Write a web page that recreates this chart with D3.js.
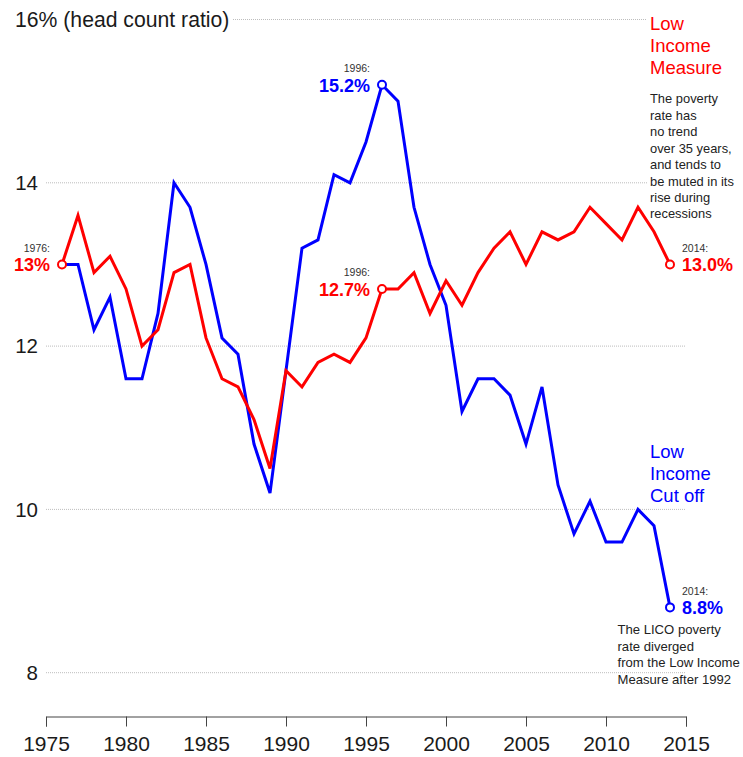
<!DOCTYPE html>
<html>
<head>
<meta charset="utf-8">
<script src="https://cdn.jsdelivr.net/npm/d3@7"></script>
<style>
  html, body { margin: 0; padding: 0; background: #fff; }
  svg { display: block; font-family: "Liberation Sans", Arial, Helvetica, sans-serif; }
</style>
</head>
<body>
<svg id="chart" width="743" height="757"></svg>
<script>
// ---- data ----
const years = d3.range(1976, 2015);
const licoValues = [13.0,13.0,12.2,12.6,11.6,11.6,12.4,14.0,13.7,13.0,
                    12.1,11.9,10.8,10.2,11.7,13.2,13.3,14.1,14.0,14.5,
                    15.2,15.0,13.7,13.0,12.5,11.2,11.6,11.6,11.4,10.8,
                    11.5,10.3,9.7,10.1,9.6,9.6,10.0,9.8,8.8];
const limValues  = [13.0,13.6,12.9,13.1,12.7,12.0,12.2,12.9,13.0,12.1,
                    11.6,11.5,11.1,10.5,11.7,11.5,11.8,11.9,11.8,12.1,
                    12.7,12.7,12.9,12.4,12.8,12.5,12.9,13.2,13.4,13.0,
                    13.4,13.3,13.4,13.7,13.5,13.3,13.7,13.4,13.0];
const xTicks = [1975,1980,1985,1990,1995,2000,2005,2010,2015];
const yTicks = [8,10,12,14,16];
const yTopLabel = "16% (head count ratio)";

// highlighted points
const limMarks  = [{year:1976, label:"1976:", value:"13%",   side:"left"},
                   {year:1996, label:"1996:", value:"12.7%", side:"left"},
                   {year:2014, label:"2014:", value:"13.0%", side:"right"}];
const licoMarks = [{year:1996, label:"1996:", value:"15.2%", side:"left"},
                   {year:2014, label:"2014:", value:"8.8%",  side:"right"}];

const limTitle  = ["Low","Income","Measure"];
const limNote   = ["The poverty","rate has","no trend","over 35 years,","and tends to","be muted in its","rise during","recessions"];
const licoTitle = ["Low","Income","Cut off"];
const licoNote  = ["The LICO poverty","rate diverged","from the Low Income","Measure after 1992"];

const BLUE = "#0000ff", RED = "#ff0000";

// ---- chart ----
const svg = d3.select("#chart");
const x = d3.scaleLinear().domain([1975, 2015]).range([46, 686]);
const y = d3.scaleLinear().domain([8, 16]).range([672.7, 19.5]);

const lico = years.map((yr, i) => ({year: yr, v: licoValues[i]}));
const lim  = years.map((yr, i) => ({year: yr, v: limValues[i]}));

// gridlines
const grid = svg.append("g");
grid.selectAll("line").data(yTicks).join("line")
  .attr("x1", d => d === 16 ? 233 : x(1975))
  .attr("x2", x(2015))
  .attr("y1", d => y(d)).attr("y2", d => y(d))
  .attr("stroke", "#bdbdbd").attr("stroke-width", 1)
  .attr("stroke-dasharray", "1,1");

// y labels
svg.append("g").selectAll("text").data(yTicks).join("text")
  .attr("x", d => d === 16 ? 15 : 38)
  .attr("y", d => y(d))
  .attr("dy", "0.36em")
  .attr("text-anchor", d => d === 16 ? "start" : "end")
  .attr("font-size", d => d === 16 ? 21.2 : 20.5)
  .attr("fill", "#1a1a1a")
  .text(d => d === 16 ? yTopLabel : d);

// x axis
const xAxis = svg.append("g")
  .attr("transform", "translate(0,716.5)")
  .call(d3.axisBottom(x).tickValues(xTicks).tickFormat(d3.format("d")).tickSize(10).tickPadding(10));
xAxis.select(".domain").attr("stroke", "#444");
xAxis.selectAll(".tick line").attr("stroke", "#444");
xAxis.selectAll(".tick text").attr("font-size", 21).attr("fill", "#1a1a1a")
  .attr("font-family", "\"Liberation Sans\", Arial, sans-serif");

// LIM annotation background (covers gridlines)
svg.append("rect").attr("x", 647).attr("y", 8).attr("width", 96).attr("height", 216).attr("fill", "#fff");

// lines
const line = d3.line().x(d => x(d.year)).y(d => y(d.v));
svg.append("path").datum(lico).attr("d", line)
  .attr("fill", "none").attr("stroke", BLUE).attr("stroke-width", 3).attr("stroke-linejoin", "miter");
svg.append("path").datum(lim).attr("d", line)
  .attr("fill", "none").attr("stroke", RED).attr("stroke-width", 3).attr("stroke-linejoin", "miter");

// markers + labels
function marks(data, markList, color) {
  const g = svg.append("g");
  markList.forEach(m => {
    const d = data.find(p => p.year === m.year);
    const cx = x(d.year), cy = y(d.v);
    g.append("circle").attr("cx", cx).attr("cy", cy).attr("r", 4)
      .attr("fill", "#fff").attr("stroke", color).attr("stroke-width", 2);
    const tx = m.side === "left" ? cx - 12 : cx + 12;
    const anchor = m.side === "left" ? "end" : "start";
    g.append("text").attr("x", tx).attr("y", cy - 12.5).attr("text-anchor", anchor)
      .attr("font-size", 10.5).attr("fill", "#333").text(m.label);
    g.append("text").attr("x", tx).attr("y", cy + 7).attr("text-anchor", anchor)
      .attr("font-size", 18).attr("font-weight", "bold").attr("fill", color).text(m.value);
  });
}
marks(lico, licoMarks, BLUE);
marks(lim, limMarks, RED);

// text blocks
function block(lines, x0, y0, step, size, color) {
  svg.append("g").selectAll("text").data(lines).join("text")
    .attr("x", x0).attr("y", (d, i) => y0 + i * step)
    .attr("font-size", size).attr("fill", color).text(d => d);
}
block(limTitle, 650, 29.5, 22, 18.5, RED);
block(limNote, 650, 103.3, 16.45, 12.9, "#222");
block(licoTitle, 650, 457.7, 22, 18.5, BLUE);
block(licoNote, 617.5, 634.3, 16.5, 13.1, "#222");
</script>
</body>
</html>
